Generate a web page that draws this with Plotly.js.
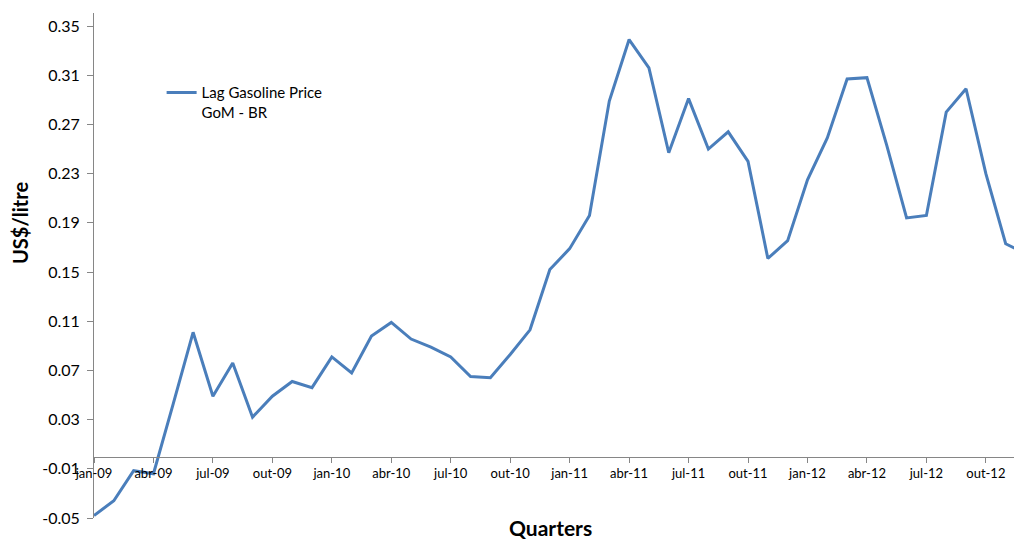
<!DOCTYPE html>
<html>
<head>
<meta charset="utf-8">
<script src="https://cdn.plot.ly/plotly-3.0.1.min.js"></script>
<style>html,body{margin:0;padding:0;background:#fff;}#chart{width:1014px;height:540px;}</style>
</head>
<body>
<div id="chart"></div>
<script>
const months = ['jan-09','fev-09','mar-09','abr-09','mai-09','jun-09','jul-09','ago-09','set-09','out-09','nov-09','dez-09',
                'jan-10','fev-10','mar-10','abr-10','mai-10','jun-10','jul-10','ago-10','set-10','out-10','nov-10','dez-10',
                'jan-11','fev-11','mar-11','abr-11','mai-11','jun-11','jul-11','ago-11','set-11','out-11','nov-11','dez-11',
                'jan-12','fev-12','mar-12','abr-12','mai-12','jun-12','jul-12','ago-12','set-12','out-12','nov-12','dez-12'];
const lagGasolinePrice = [-0.048,-0.036,-0.0115,-0.014,0.043,0.101,0.049,0.076,0.032,0.049,0.061,0.056,
                          0.081,0.068,0.098,0.109,0.0955,0.089,0.081,0.065,0.064,0.083,0.103,0.152,
                          0.169,0.196,0.289,0.339,0.316,0.247,0.291,0.250,0.264,0.240,0.161,0.1755,
                          0.225,0.259,0.307,0.308,0.253,0.194,0.196,0.280,0.299,0.230,0.173,0.165];
const xTickLabels = ['jan-09','abr-09','jul-09','out-09','jan-10','abr-10','jul-10','out-10',
                     'jan-11','abr-11','jul-11','out-11','jan-12','abr-12','jul-12','out-12'];
const yTickValues = [-0.05,-0.01,0.03,0.07,0.11,0.15,0.19,0.23,0.27,0.31,0.35];
const yTickLabels = ['-0.05','-0.01','0.03','0.07','0.11','0.15','0.19','0.23','0.27','0.31','0.35'];
const seriesName = 'Lag Gasoline Price<br>GoM - BR';
const yTitle = 'US$/litre';
const xTitle = 'Quarters';

const yMin = -0.05, yMax = 0.3606;
const font = 'Lato, "Open Sans", sans-serif';

const trace = {
  x: months, y: lagGasolinePrice, type: 'scatter', mode: 'lines',
  name: seriesName, line: {color: '#4a7ebb', width: 3}, showlegend: true
};

const layout = {
  width: 1014, height: 540,
  margin: {l: 94, r: 0, t: 13, b: 22, pad: 0},
  paper_bgcolor: '#ffffff', plot_bgcolor: '#ffffff',
  font: {family: font, color: '#000000'},
  showlegend: true,
  legend: {x: 0.0735, y: 0.875, xanchor: 'left', yanchor: 'top', valign: 'top',
           bgcolor: 'rgba(0,0,0,0)', font: {family: font, size: 15, color: '#000'}},
  xaxis: {
    type: 'category', range: [0, 46.42], anchor: 'free',
    position: (0 - yMin) / (yMax - yMin),
    tickmode: 'array', tickvals: xTickLabels, ticktext: xTickLabels,
    ticks: 'outside', ticklen: 5, tickcolor: '#868686',
    showline: true, linecolor: '#868686', linewidth: 1,
    showgrid: false, zeroline: false, tickangle: 0,
    tickfont: {family: font, size: 13, color: '#000'}
  },
  yaxis: {
    range: [yMin, yMax], tickmode: 'array', tickvals: yTickValues, ticktext: yTickLabels,
    ticks: 'outside', ticklen: 6, tickcolor: '#868686',
    showline: true, linecolor: '#868686', linewidth: 1,
    showgrid: false, zeroline: false, ticklabelstandoff: 4,
    tickfont: {family: font, size: 16, color: '#000'}
  },
  annotations: [
    {text: yTitle, xref: 'paper', yref: 'paper', x: (20 - 94) / 920, y: (518 - 223) / 505,
     showarrow: false, textangle: -90, xanchor: 'center', yanchor: 'middle',
     font: {family: font, size: 20, color: '#000', weight: 'bold'}},
    {text: xTitle, xref: 'paper', yref: 'paper', x: (550 - 94) / 920, y: (518 - 513) / 505,
     showarrow: false, xanchor: 'center', yanchor: 'top',
     font: {family: font, size: 21, color: '#000', weight: 'bold'}}
  ]
};

Plotly.newPlot('chart', [trace], layout, {displayModeBar: false, staticPlot: true});
</script>
</body>
</html>
